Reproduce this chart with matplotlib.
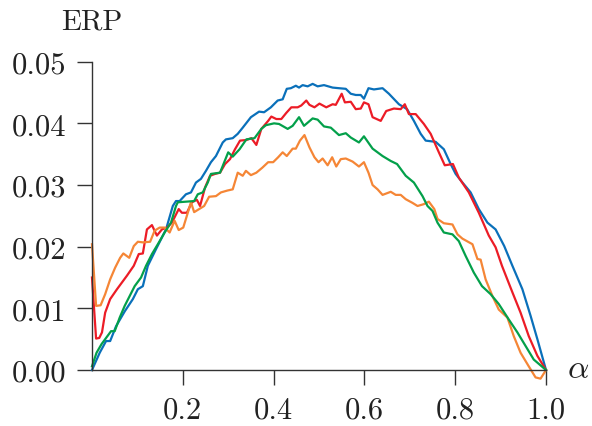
"""ERP curves against alpha for four settings."""
import matplotlib

matplotlib.use("Agg")
import matplotlib.pyplot as plt
from matplotlib.ticker import FormatStrFormatter

plt.rcParams["font.family"] = "cmr10"
plt.rcParams["mathtext.fontset"] = "cm"
plt.rcParams["axes.formatter.use_mathtext"] = True

# values
blue_x = [0.0, 0.017, 0.031, 0.040, 0.053, 0.072, 0.090, 0.101, 0.112, 0.123, 0.141, 0.163,
          0.178, 0.185, 0.193, 0.207, 0.218, 0.229, 0.240, 0.251, 0.262, 0.273, 0.288, 0.295,
          0.310, 0.321, 0.332, 0.350, 0.368, 0.379, 0.394, 0.409, 0.420, 0.429, 0.438, 0.449,
          0.456, 0.464, 0.475, 0.486, 0.497, 0.511, 0.530, 0.544, 0.559, 0.570, 0.581, 0.592,
          0.599, 0.609, 0.621, 0.640, 0.654, 0.676, 0.694, 0.709, 0.724, 0.735, 0.757, 0.775,
          0.790, 0.801, 0.816, 0.834, 0.852, 0.871, 0.889, 0.908, 0.926, 0.948, 0.966, 0.981, 1.0]
blue_y = [0.0, 0.0028, 0.0047, 0.0047, 0.0071, 0.0095, 0.0115, 0.0131, 0.0136, 0.0169, 0.0196,
          0.0228, 0.0266, 0.0274, 0.0274, 0.0285, 0.0288, 0.0304, 0.0310, 0.0323, 0.0337, 0.0347,
          0.0369, 0.0374, 0.0376, 0.0383, 0.0393, 0.0410, 0.0419, 0.0418, 0.0426, 0.0437, 0.0439,
          0.0456, 0.0457, 0.0461, 0.0458, 0.0462, 0.0460, 0.0464, 0.0460, 0.0462, 0.0458, 0.0457,
          0.0456, 0.0448, 0.0446, 0.0446, 0.0440, 0.0457, 0.0455, 0.0457, 0.0448, 0.0431, 0.0423,
          0.0404, 0.0383, 0.0372, 0.0370, 0.0358, 0.0334, 0.0318, 0.0304, 0.0288, 0.0261, 0.0239,
          0.0228, 0.0201, 0.0169, 0.0131, 0.0088, 0.0050, 0.0]

red_x = [0.0, 0.009, 0.016, 0.022, 0.029, 0.040, 0.055, 0.066, 0.077, 0.092, 0.103, 0.112,
         0.121, 0.132, 0.143, 0.154, 0.165, 0.176, 0.191, 0.198, 0.209, 0.220, 0.231, 0.238,
         0.249, 0.260, 0.271, 0.282, 0.293, 0.304, 0.315, 0.326, 0.340, 0.351, 0.362, 0.373,
         0.388, 0.395, 0.406, 0.417, 0.428, 0.439, 0.453, 0.461, 0.472, 0.479, 0.490, 0.501,
         0.516, 0.530, 0.537, 0.550, 0.557, 0.570, 0.581, 0.592, 0.599, 0.609, 0.618, 0.636,
         0.648, 0.665, 0.680, 0.689, 0.698, 0.713, 0.731, 0.746, 0.764, 0.777, 0.795, 0.808,
         0.830, 0.852, 0.874, 0.889, 0.903, 0.926, 0.944, 0.962, 0.981, 1.0]
red_y = [0.0150, 0.0051, 0.0052, 0.0061, 0.0093, 0.0115, 0.0131, 0.0142, 0.0153, 0.0169, 0.0188,
         0.0189, 0.0228, 0.0235, 0.0218, 0.0228, 0.0231, 0.0239, 0.0261, 0.0255, 0.0255, 0.0272,
         0.0276, 0.0266, 0.0296, 0.0315, 0.0318, 0.0320, 0.0334, 0.0342, 0.0358, 0.0372, 0.0373,
         0.0376, 0.0365, 0.0391, 0.0404, 0.0411, 0.0407, 0.0407, 0.0417, 0.0426, 0.0426, 0.0429,
         0.0437, 0.0430, 0.0426, 0.0432, 0.0426, 0.0431, 0.0430, 0.0448, 0.0434, 0.0435, 0.0423,
         0.0424, 0.0434, 0.0431, 0.0410, 0.0404, 0.0420, 0.0424, 0.0423, 0.0431, 0.0415, 0.0415,
         0.0399, 0.0383, 0.0353, 0.0332, 0.0334, 0.0312, 0.0288, 0.0255, 0.0218, 0.0199, 0.0169,
         0.0126, 0.0093, 0.0055, 0.0023, 0.0]

green_x = [0.0, 0.010, 0.021, 0.031, 0.042, 0.050, 0.061, 0.072, 0.083, 0.094, 0.108, 0.119,
           0.132, 0.145, 0.160, 0.174, 0.185, 0.189, 0.207, 0.225, 0.233, 0.244, 0.255, 0.262,
           0.282, 0.300, 0.310, 0.325, 0.340, 0.358, 0.373, 0.383, 0.401, 0.412, 0.431, 0.442,
           0.456, 0.467, 0.486, 0.497, 0.511, 0.526, 0.544, 0.559, 0.570, 0.588, 0.599, 0.618,
           0.640, 0.658, 0.672, 0.691, 0.709, 0.728, 0.739, 0.750, 0.761, 0.775, 0.794, 0.808,
           0.823, 0.841, 0.859, 0.878, 0.896, 0.918, 0.937, 0.955, 0.973, 1.0]
green_y = [0.0006, 0.0028, 0.0042, 0.0052, 0.0063, 0.0063, 0.0085, 0.0104, 0.0120, 0.0136, 0.0150,
           0.0169, 0.0188, 0.0204, 0.0223, 0.0239, 0.0266, 0.0272, 0.0273, 0.0274, 0.0285, 0.0288,
           0.0304, 0.0318, 0.0320, 0.0353, 0.0346, 0.0358, 0.0374, 0.0376, 0.0391, 0.0397, 0.0400,
           0.0399, 0.0391, 0.0396, 0.0410, 0.0396, 0.0408, 0.0406, 0.0395, 0.0393, 0.0381, 0.0384,
           0.0377, 0.0369, 0.0379, 0.0359, 0.0347, 0.0339, 0.0334, 0.0315, 0.0304, 0.0282, 0.0266,
           0.0258, 0.0239, 0.0223, 0.0220, 0.0209, 0.0185, 0.0158, 0.0136, 0.0123, 0.0107, 0.0082,
           0.0061, 0.0039, 0.0017, 0.0]

orange_x = [0.0, 0.009, 0.019, 0.029, 0.040, 0.051, 0.062, 0.069, 0.082, 0.092, 0.101, 0.112,
            0.128, 0.138, 0.149, 0.160, 0.171, 0.182, 0.191, 0.201, 0.211, 0.218, 0.225, 0.236,
            0.247, 0.258, 0.273, 0.284, 0.298, 0.310, 0.321, 0.332, 0.339, 0.350, 0.362, 0.375,
            0.388, 0.399, 0.410, 0.420, 0.429, 0.442, 0.449, 0.458, 0.468, 0.479, 0.490, 0.499,
            0.508, 0.519, 0.529, 0.538, 0.548, 0.559, 0.574, 0.588, 0.599, 0.609, 0.618, 0.629,
            0.640, 0.658, 0.669, 0.680, 0.691, 0.706, 0.717, 0.731, 0.742, 0.754, 0.761, 0.775,
            0.794, 0.805, 0.816, 0.838, 0.849, 0.856, 0.867, 0.882, 0.896, 0.915, 0.929, 0.944,
            0.962, 0.977, 0.988, 1.0]
orange_y = [0.0204, 0.0104, 0.0105, 0.0123, 0.0147, 0.0166, 0.0182, 0.0189, 0.0182, 0.0201, 0.0208,
            0.0207, 0.0208, 0.0226, 0.0231, 0.0231, 0.0223, 0.0242, 0.0227, 0.0231, 0.0255, 0.0272,
            0.0256, 0.0261, 0.0266, 0.0281, 0.0282, 0.0288, 0.0291, 0.0293, 0.0320, 0.0315, 0.0323,
            0.0316, 0.0320, 0.0328, 0.0337, 0.0337, 0.0345, 0.0353, 0.0347, 0.0359, 0.0359, 0.0372,
            0.0381, 0.0361, 0.0345, 0.0337, 0.0343, 0.0332, 0.0345, 0.0330, 0.0342, 0.0343, 0.0338,
            0.0330, 0.0337, 0.0320, 0.0300, 0.0293, 0.0284, 0.0289, 0.0284, 0.0284, 0.0277, 0.0271,
            0.0266, 0.0269, 0.0273, 0.0261, 0.0245, 0.0238, 0.0236, 0.0220, 0.0213, 0.0204, 0.0180,
            0.0179, 0.0147, 0.0120, 0.0098, 0.0085, 0.0055, 0.0028, 0.0006, -0.0012, -0.0014, 0.0]

x_ticks = [0.2, 0.4, 0.6, 0.8, 1.0]
y_ticks = [0.0, 0.01, 0.02, 0.03, 0.04, 0.05]

fig = plt.figure(figsize=(5.92, 4.27), dpi=100)
ax = fig.add_axes([0.1554, 0.1311, 0.7669, 0.7221])

lw = 1.6
ax.plot(blue_x, blue_y, color="#0a70ba", linewidth=lw, clip_on=False)
ax.plot(red_x, red_y, color="#ec1c26", linewidth=lw, clip_on=False)
ax.plot(orange_x, orange_y, color="#f58636", linewidth=lw, clip_on=False)
ax.plot(green_x, green_y, color="#03a04a", linewidth=lw, clip_on=False)

ax.set_xlim(0, 1)
ax.set_ylim(0, 0.05)
ax.set_xticks(x_ticks)
ax.set_yticks(y_ticks)
ax.xaxis.set_major_formatter(FormatStrFormatter("%.1f"))
ax.yaxis.set_major_formatter(FormatStrFormatter("%.2f"))

for side in ("top", "right"):
    ax.spines[side].set_visible(False)
for side in ("left", "bottom"):
    ax.spines[side].set_color("#333333")
    ax.spines[side].set_linewidth(1.0)

ax.tick_params(direction="out", length=10.5, width=1.0, color="#333333",
               labelsize=22, pad=8, labelcolor="#222222")

fig.text(0.1554, 0.948, "ERP", ha="center", va="center", fontsize=21, color="#222222")
fig.text(0.976, 0.135, r"$\alpha$", ha="center", va="center", fontsize=24, color="#222222")

fig.savefig("out.png", dpi=100)
plt.close(fig)
